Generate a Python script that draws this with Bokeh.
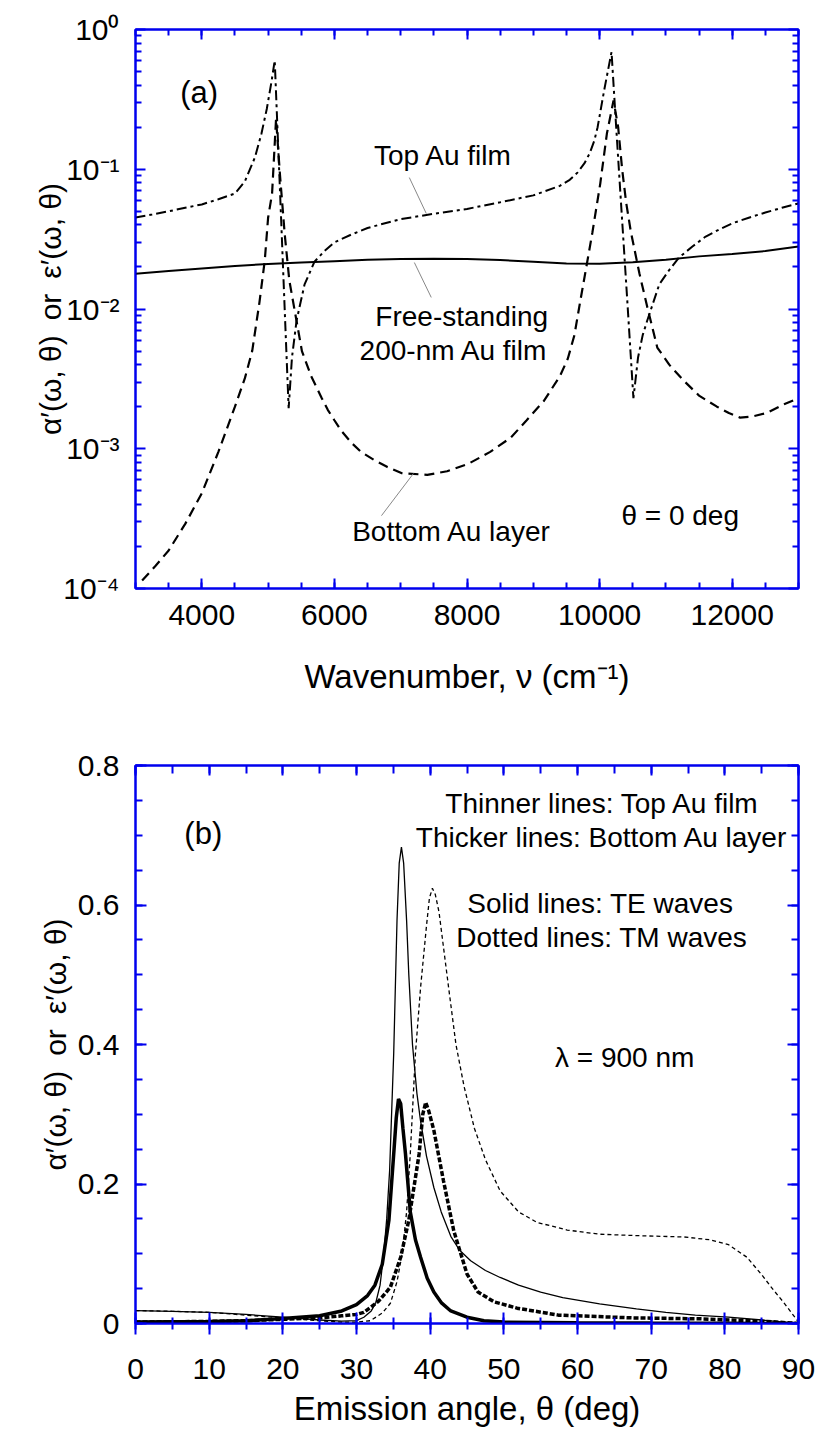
from bokeh.plotting import figure
from bokeh.layouts import column
from bokeh.models import LinearAxis, LogAxis, FixedTicker, CustomJSTickFormatter, Range1d
from bokeh.core.properties import value
from bokeh.embed import file_html
from bokeh.resources import INLINE

# ---------------- Panel (a) data: theta = 0 deg ----------------
nu_free = [3000, 3500, 4000, 4500, 5000, 5500, 6000, 6500, 7000, 7500, 8000, 8500,
           9000, 9500, 10000, 10500, 11000, 11500, 12000, 12500, 13000]
free_film = [0.0179, 0.0187, 0.0195, 0.0203, 0.0210, 0.0215, 0.0220, 0.0225, 0.0228,
             0.0229, 0.0228, 0.0224, 0.0218, 0.0212, 0.0211, 0.0216, 0.0225, 0.0238,
             0.0247, 0.0260, 0.0280]

nu_top = [3000, 3250, 3500, 3750, 4000, 4250, 4500, 4650, 4800, 4900, 4980, 5050, 5100,
          5150, 5200, 5260, 5310, 5360, 5430, 5550, 5700, 5850, 6000, 6250, 6500, 7000,
          7500, 8000, 8500, 9000, 9400, 9550, 9670, 9770, 9850, 9920, 9970, 10070, 10180,
          10250, 10330, 10420, 10510, 10580, 10650, 10720, 10900, 11050, 11200, 11400,
          11600, 11800, 12000, 12250, 12500, 12750, 13000]
top_film = [0.0452, 0.0475, 0.050, 0.053, 0.056, 0.061, 0.067, 0.082, 0.121, 0.18, 0.27,
            0.42, 0.60, 0.155, 0.040, 0.0076, 0.00195, 0.0045, 0.0083, 0.015, 0.0218,
            0.026, 0.030, 0.034, 0.038, 0.044, 0.048, 0.052, 0.058, 0.065, 0.076, 0.084,
            0.095, 0.11, 0.13, 0.16, 0.20, 0.37, 0.69, 0.20, 0.051, 0.011, 0.0023, 0.0045,
            0.0065, 0.0083, 0.015, 0.019, 0.0234, 0.028, 0.033, 0.037, 0.041, 0.045,
            0.049, 0.053, 0.057]

nu_bot = [3100, 3300, 3500, 3750, 4000, 4250, 4500, 4650, 4760, 4870, 4950, 5000, 5060,
          5120, 5180, 5250, 5320, 5400, 5510, 5650, 5810, 5900, 6000, 6100, 6260, 6400,
          6600, 6800, 7010, 7400, 7700, 8020, 8350, 8660, 8900, 9160, 9400, 9520, 9620,
          9710, 9800, 9890, 10010, 10110, 10210, 10280, 10340, 10400, 10470, 10600, 10720,
          10870, 11050, 11260, 11500, 11770, 11950, 12120, 12300, 12520, 12800, 13000]
bottom_layer = [1.14e-4, 1.45e-4, 1.87e-4, 2.9e-4, 4.8e-4, 9.5e-4, 0.0020, 0.0032, 0.0050,
                0.0112, 0.0223, 0.045, 0.067, 0.23, 0.09, 0.0346, 0.016, 0.0098, 0.0050,
                0.0033, 0.0023, 0.0019, 0.0016, 0.00135, 0.0011, 9.5e-4, 8.3e-4, 7.4e-4,
                6.7e-4, 6.5e-4, 6.9e-4, 7.8e-4, 9.5e-4, 0.0012, 0.0016, 0.0022, 0.0033,
                0.0044, 0.0065, 0.0115, 0.020, 0.035, 0.079, 0.18, 0.31, 0.20, 0.10, 0.058,
                0.036, 0.018, 0.0103, 0.0053, 0.0040, 0.0031, 0.0024, 0.0020, 0.0018,
                0.00167, 0.0017, 0.0018, 0.0021, 0.0023]

# ---------------- Panel (b) data: lambda = 900 nm ----------------
th_top_te = [0, 5, 10, 15, 20, 25, 28, 30, 31, 32, 32.6, 33.2, 33.7, 34.1, 34.5, 35.05,
             35.5, 35.8, 36.1, 36.4, 36.8, 37.1, 37.6, 38.2, 38.7, 39.5, 40.5, 41.5, 42.8,
             44, 45.5, 47.5, 49.5, 52, 55, 58, 63, 68, 72, 76, 80.5, 85, 90]
top_te = [0.0186, 0.0175, 0.016, 0.013, 0.009, 0.005, 0.0035, 0.004, 0.009, 0.018, 0.029,
          0.055, 0.10, 0.15, 0.22, 0.387, 0.578, 0.66, 0.683, 0.66, 0.578, 0.50, 0.40,
          0.33, 0.29, 0.24, 0.195, 0.16, 0.125, 0.105, 0.09, 0.076, 0.066, 0.055, 0.045,
          0.037, 0.028, 0.021, 0.016, 0.012, 0.009, 0.005, 0.0]

th_top_tm = [0, 5, 10, 15, 20, 25, 28, 30, 31.9, 33.5, 34.6, 35.5, 36.2, 36.8, 37.3, 38.0,
             38.7, 39.5, 39.9, 40.3, 40.7, 41.2, 42.5, 43.5, 44.6, 46, 47.5, 49.5, 52,
             54.5, 58.6, 63, 68, 74.5, 78, 80.5, 83, 85, 86.6, 88, 90]
top_tm = [0.0186, 0.0175, 0.016, 0.012, 0.008, 0.004, 0.002, 0.002, 0.004, 0.015, 0.029,
          0.06, 0.10, 0.16, 0.243, 0.387, 0.482, 0.57, 0.61, 0.624, 0.615, 0.59, 0.482,
          0.40, 0.34, 0.28, 0.235, 0.19, 0.16, 0.145, 0.134, 0.128, 0.126, 0.124, 0.12,
          0.113, 0.095, 0.07, 0.048, 0.03, 0.002]

th_bot_te = [0, 5, 10, 15, 20, 25, 28, 30, 31.5, 32.5, 33.5, 34.4, 35.05, 35.4, 35.7,
             36.0, 36.3, 36.65, 37.3, 38.0, 38.7, 39.6, 40.5, 41.5, 42.8, 45, 47.3, 50,
             60, 70, 80, 90]
bot_te = [0.002, 0.0025, 0.003, 0.004, 0.007, 0.011, 0.018, 0.027, 0.04, 0.055, 0.085,
          0.148, 0.243, 0.295, 0.322, 0.315, 0.28, 0.243, 0.16, 0.12, 0.095, 0.065, 0.045,
          0.03, 0.018, 0.009, 0.004, 0.002, 0.001, 0.0006, 0.0003, 0.0]

th_bot_tm = [0, 5, 10, 15, 20, 25, 28, 30, 31, 33, 34.6, 36, 37.1, 38.5, 39.0, 39.4,
             39.8, 40.5, 41.8, 43.2, 45, 46.5, 48.7, 51.8, 57.4, 67.6, 76.7, 85.7, 90]
bot_tm = [0.002, 0.0025, 0.003, 0.004, 0.006, 0.008, 0.011, 0.013, 0.016, 0.032, 0.052,
          0.095, 0.148, 0.243, 0.30, 0.317, 0.305, 0.277, 0.205, 0.133, 0.071, 0.045,
          0.031, 0.022, 0.012, 0.008, 0.0067, 0.003, 0.0]

# ---------------- styling ----------------
BLUE = "#0000EE"
FONT = "Liberation Sans"
TICK_FS = "30px"
LABEL_FS = "33px"
YLABEL_FS = "30px"
NOTE_FS = "28px"
YLABEL = "\u03b1\u2032(\u03c9, \u03b8)\u2002or\u2002\u03b5\u2032(\u03c9, \u03b8)"

log_fmt = CustomJSTickFormatter(code="""
const e = Math.round(Math.log10(tick));
const sup = {'0':'\\u2070','1':'\\u00B9','2':'\\u00B2','3':'\\u00B3','4':'\\u2074','-':'\\u207B'};
return '10' + String(e).split('').map(c => sup[c]).join('');
""")
lin_fmt = CustomJSTickFormatter(code="return tick == 0 ? '0' : tick.toFixed(1);")


def blank_fmt():
    return CustomJSTickFormatter(code="return '';")


def style_axis(ax, maj_in, min_in, maj_out=0, min_out=0, show_labels=True):
    ax.axis_line_color = BLUE
    ax.axis_line_width = 2
    ax.major_tick_line_color = BLUE
    ax.minor_tick_line_color = BLUE
    ax.major_tick_line_width = 2
    ax.minor_tick_line_width = 2
    ax.major_tick_in = maj_in
    ax.major_tick_out = maj_out
    ax.minor_tick_in = min_in
    ax.minor_tick_out = min_out
    ax.major_label_text_font = FONT
    ax.major_label_text_color = "black"
    ax.axis_label_text_font = FONT
    ax.axis_label_text_font_style = "normal"
    ax.axis_label_text_color = "black"
    ax.axis_label_text_font_size = LABEL_FS
    if show_labels:
        ax.major_label_text_font_size = TICK_FS
    else:
        ax.formatter = blank_fmt()
        ax.major_label_text_font_size = "2px"
        ax.major_label_standoff = 0


# ---------------- Panel (a) ----------------
p1 = figure(width=817, height=735, x_range=Range1d(3000, 13000), y_range=Range1d(1e-4, 1),
            y_axis_type="log", output_backend="svg", toolbar_location=None, title=None,
            min_border_left=135, min_border_right=19, min_border_top=29, min_border_bottom=147)
p1.xgrid.visible = False
p1.ygrid.visible = False
p1.outline_line_color = BLUE
p1.outline_line_width = 2

x_ticker_a = FixedTicker(ticks=[4000, 6000, 8000, 10000, 12000],
                         minor_ticks=list(range(3000, 13001, 500)))
y_ticker_a = FixedTicker(ticks=[1e-4, 1e-3, 1e-2, 1e-1, 1.0],
                         minor_ticks=[k * 10.0 ** e for e in range(-4, 0) for k in range(2, 10)])

xa = p1.xaxis[0]
xa.ticker = x_ticker_a
style_axis(xa, 10, 6)
xa.major_label_standoff = 16
xa.axis_label = "Wavenumber, \u03bd (cm\u207b\u00b9)"
xa.axis_label_standoff = 30

ya = p1.yaxis[0]
ya.ticker = y_ticker_a
ya.formatter = log_fmt
style_axis(ya, 10, 6)
ya.major_label_standoff = 16
ya.axis_label = YLABEL
ya.axis_label_text_font_size = YLABEL_FS
ya.axis_label_standoff = -7

top_a = LinearAxis(ticker=x_ticker_a)
style_axis(top_a, 10, 6, show_labels=False)
p1.add_layout(top_a, "above")
right_a = LogAxis(ticker=y_ticker_a)
style_axis(right_a, 10, 6, show_labels=False)
p1.add_layout(right_a, "right")

p1.line(nu_free, free_film, line_color="black", line_width=2)
p1.line(nu_top, top_film, line_color="black", line_width=2, line_dash="10 4 3 4")
p1.line(nu_bot, bottom_layer, line_color="black", line_width=2.2, line_dash="10 6")

# leader lines from labels to curves
p1.segment(x0=[7130, 7206, 6710], y0=[0.0872, 0.0215, 3.32e-4],
           x1=[7386, 7461, 7191], y1=[0.0482, 0.0121, 6.64e-4],
           line_color="#888888", line_width=1)

p1.text(x=[3960], y=[0.354], text=["(a)"], text_font=value(FONT),
        text_font_size=value("31px"), text_align="center", text_baseline="middle")
p1.text(x=[7640, 7920, 7800, 7770, 11216],
        y=[0.125, 0.00883, 0.00504, 2.55e-4, 3.32e-4],
        text=["Top Au film", "Free-standing", "200-nm Au film", "Bottom Au layer", "\u03b8 = 0 deg"],
        text_font=value(FONT), text_font_size=value(NOTE_FS),
        text_align="center", text_baseline="middle")

# ---------------- Panel (b) ----------------
p2 = figure(width=817, height=700, x_range=Range1d(0, 90), y_range=Range1d(0, 0.8),
            output_backend="svg", toolbar_location=None, title=None,
            min_border_left=135, min_border_right=19, min_border_top=30, min_border_bottom=112)
p2.xgrid.visible = False
p2.ygrid.visible = False
p2.outline_line_color = BLUE
p2.outline_line_width = 2

x_ticker_b = FixedTicker(ticks=list(range(0, 91, 10)), minor_ticks=list(range(0, 91, 5)))
y_ticker_b = FixedTicker(ticks=[0, 0.2, 0.4, 0.6, 0.8],
                         minor_ticks=[i * 0.05 for i in range(17)])

xb = p2.xaxis[0]
xb.ticker = x_ticker_b
style_axis(xb, 11, 6, maj_out=11, min_out=6)
xb.major_label_standoff = 24
xb.axis_label = "Emission angle, \u03b8 (deg)"
xb.axis_label_standoff = 8

yb = p2.yaxis[0]
yb.ticker = y_ticker_b
yb.formatter = lin_fmt
style_axis(yb, 11, 7)
yb.major_label_standoff = 16
yb.axis_label = YLABEL
yb.axis_label_text_font_size = YLABEL_FS
yb.axis_label_standoff = 3

top_b = LinearAxis(ticker=x_ticker_b)
style_axis(top_b, 10, 8, show_labels=False)
p2.add_layout(top_b, "above")
right_b = LinearAxis(ticker=y_ticker_b)
style_axis(right_b, 11, 7, show_labels=False)
p2.add_layout(right_b, "right")

p2.line(th_top_te, top_te, line_color="black", line_width=1.3)
p2.line(th_top_tm, top_tm, line_color="black", line_width=1.3, line_dash="4 3")
p2.line(th_bot_te, bot_te, line_color="black", line_width=3.5)
p2.line(th_bot_tm, bot_tm, line_color="black", line_width=3.5, line_dash="5 2")

p2.text(x=[9.2], y=[0.703], text=["(b)"], text_font=value(FONT),
        text_font_size=value("31px"), text_align="center", text_baseline="middle")
p2.text(x=[63.4, 63.3, 63.1, 63.3, 66.4],
        y=[0.746, 0.697, 0.602, 0.553, 0.381],
        text=["Thinner lines: Top Au film", "Thicker lines: Bottom Au layer",
              "Solid lines: TE waves", "Dotted lines: TM waves", "\u03bb = 900 nm"],
        text_font=value(FONT), text_font_size=value(NOTE_FS),
        text_align="center", text_baseline="middle")

layout = column(p1, p2, spacing=0)
with open("out.html", "w", encoding="utf-8") as f:
    f.write(file_html(layout, INLINE))
